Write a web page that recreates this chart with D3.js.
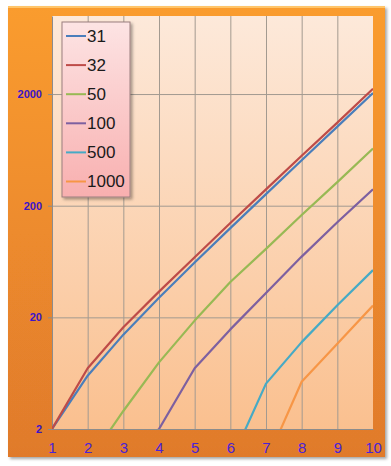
<!DOCTYPE html>
<html>
<head>
<meta charset="utf-8">
<script src="https://cdn.jsdelivr.net/npm/d3@7"></script>
<style>
body { margin: 0; background: #fff; }
svg { display: block; }
</style>
</head>
<body>
<svg width="391" height="466"></svg>
<script>
// x categories and series (values below 2 fall under the log axis and get clipped)
var xValues = [1, 2, 3, 4, 5, 6, 7, 8, 9, 10];
var seriesNames = ["31", "32", "50", "100", "500", "1000"];
var s31 = [2, 6, 14, 30, 62, 126, 254, 510, 1022, 2046];
var s32 = [2, 7, 16.3, 34, 69, 140, 280, 560, 1110, 2230];
var s50 = [null, 1, 2.9, 7.9, 18.7, 41.5, 82, 165, 325, 650];
var s100 = [null, null, 1, 2, 7, 15.6, 33, 70, 142, 281];
var s500 = [null, null, null, null, null, 1, 5.1, 12, 25.7, 53];
var s1000 = [null, null, null, null, null, null, 1, 5.3, 11.6, 25.5];
var yTicks = [2, 20, 200, 2000];

var colors = ["#4A7EBB", "#BE4B48", "#98B954", "#7D60A0", "#46AAC5", "#F79646"];
var seriesValues = [s31, s32, s50, s100, s500, s1000];

var svg = d3.select("svg"),
    plotLeft = 52, plotRight = 373, plotTop = 16, plotBottom = 429;

var x = d3.scaleLinear().domain([1, 10]).range([plotLeft, plotRight]);
var y = d3.scaleLog().domain([2, 10000]).range([plotBottom, plotTop]);

var defs = svg.append("defs");

var frameGrad = defs.append("linearGradient").attr("id", "frameGrad")
    .attr("x1", 0).attr("y1", 0).attr("x2", 0).attr("y2", 1);
frameGrad.append("stop").attr("offset", "0%").attr("stop-color", "#FA9C2E");
frameGrad.append("stop").attr("offset", "100%").attr("stop-color", "#E07A2C");

var plotGrad = defs.append("linearGradient").attr("id", "plotGrad")
    .attr("x1", 0).attr("y1", 0).attr("x2", 0).attr("y2", 1);
plotGrad.append("stop").attr("offset", "0%").attr("stop-color", "#FDE9DA");
plotGrad.append("stop").attr("offset", "100%").attr("stop-color", "#FAC08F");

var legendGrad = defs.append("linearGradient").attr("id", "legendGrad")
    .attr("x1", 0).attr("y1", 0).attr("x2", 0).attr("y2", 1);
legendGrad.append("stop").attr("offset", "0%").attr("stop-color", "#FDE4E4");
legendGrad.append("stop").attr("offset", "100%").attr("stop-color", "#F8AFAF");

var shadow = defs.append("filter").attr("id", "shadow")
    .attr("x", "-10%").attr("y", "-10%").attr("width", "120%").attr("height", "120%");
shadow.append("feDropShadow").attr("dx", 2).attr("dy", 2).attr("stdDeviation", 1.5)
    .attr("flood-color", "#000").attr("flood-opacity", 0.35);

defs.append("clipPath").attr("id", "plotClip")
  .append("rect").attr("x", plotLeft).attr("y", plotTop)
    .attr("width", plotRight - plotLeft).attr("height", plotBottom - plotTop);

// orange frame
svg.append("rect")
    .attr("x", 8).attr("y", 6).attr("width", 377).attr("height", 451)
    .attr("fill", "url(#frameGrad)")
    .attr("filter", "url(#shadow)");
svg.append("rect")
    .attr("x", 8).attr("y", 6).attr("width", 377).attr("height", 2)
    .attr("fill", "#FFC56A");

// plot area
svg.append("rect")
    .attr("x", plotLeft).attr("y", plotTop)
    .attr("width", plotRight - plotLeft).attr("height", plotBottom - plotTop)
    .attr("fill", "url(#plotGrad)");

// grid
svg.append("g")
    .attr("transform", "translate(0," + plotBottom + ")")
    .call(d3.axisBottom(x).tickValues(xValues.slice(1, -1)).tickSize(-(plotBottom - plotTop)).tickFormat(""))
    .call(function(g) { g.select(".domain").remove(); })
    .selectAll("line").attr("stroke", "#A39a90");

svg.append("g")
    .attr("transform", "translate(" + plotLeft + ",0)")
    .call(d3.axisLeft(y).tickValues(yTicks.slice(1)).tickSize(-(plotRight - plotLeft)).tickFormat(""))
    .call(function(g) { g.select(".domain").remove(); })
    .selectAll("line").attr("stroke", "#A39a90");

// axes
var yAxis = svg.append("g")
    .attr("transform", "translate(" + plotLeft + ",0)")
    .call(d3.axisLeft(y).tickValues(yTicks).tickSize(4).tickSizeOuter(0).tickPadding(6).tickFormat(d3.format("d")));
yAxis.select(".domain").attr("stroke", "#8C8C8C");
yAxis.selectAll("line").attr("stroke", "#8C8C8C");
yAxis.selectAll("text")
    .attr("fill", "#3A14C8")
    .style("font", "bold 11px 'Liberation Sans', Arial, sans-serif");

var xAxis = svg.append("g")
    .attr("transform", "translate(0," + plotBottom + ")")
    .call(d3.axisBottom(x).tickValues(xValues).tickSize(0).tickPadding(13).tickFormat(d3.format("d")));
xAxis.select(".domain").attr("stroke", "#8C8C8C");
xAxis.selectAll("text")
    .attr("fill", "#4A22D8")
    .style("font", "15px 'Liberation Sans', Arial, sans-serif");

// series
var line = d3.line()
    .defined(function(d) { return d[1] != null; })
    .x(function(d) { return x(d[0]); })
    .y(function(d) { return y(d[1]); });

var lines = svg.append("g").attr("clip-path", "url(#plotClip)");
seriesValues.forEach(function(vals, i) {
    lines.append("path")
        .datum(xValues.map(function(xv, j) { return [xv, vals[j]]; }))
        .attr("fill", "none")
        .attr("stroke", colors[i])
        .attr("stroke-width", 2.2)
        .attr("stroke-linejoin", "round")
        .attr("d", line);
});

// legend
var legend = svg.append("g").attr("transform", "translate(62,22)");
legend.append("rect")
    .attr("width", 68).attr("height", 175)
    .attr("fill", "url(#legendGrad)")
    .attr("stroke", "#9A7E7E").attr("stroke-width", 1)
    .attr("filter", "url(#shadow)");

seriesNames.forEach(function(name, i) {
    var ly = 14 + i * 29.1;
    legend.append("line")
        .attr("x1", 4).attr("x2", 24).attr("y1", ly).attr("y2", ly)
        .attr("stroke", colors[i]).attr("stroke-width", 2);
    legend.append("text")
        .attr("x", 25).attr("y", ly).attr("dy", "0.35em")
        .attr("fill", "#1a1a1a")
        .style("font", "17px 'Liberation Sans', Arial, sans-serif")
        .text(name);
});
</script>
</body>
</html>
